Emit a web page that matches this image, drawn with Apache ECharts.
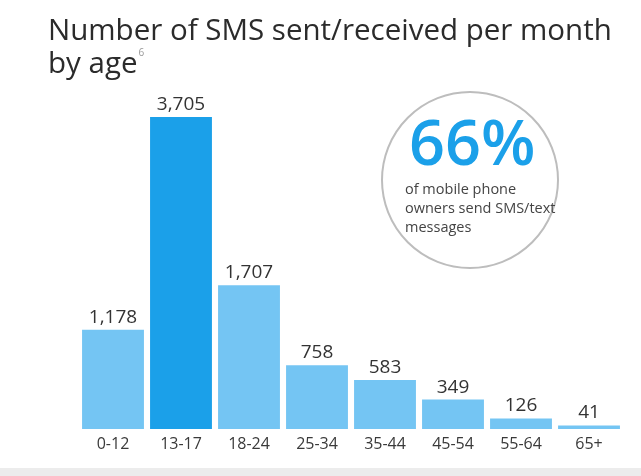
<!DOCTYPE html>
<html>
<head>
<meta charset="utf-8">
<script src="https://cdn.jsdelivr.net/npm/echarts@6/dist/echarts.min.js"></script>
<style>
  html, body { margin: 0; padding: 0; background: #fff; }
  #chart { width: 641px; height: 476px; }
</style>
</head>
<body>
<div id="chart"></div>
<script>
// age groups and SMS per month
var ageGroups = ['0-12', '13-17', '18-24', '25-34', '35-44', '45-54', '55-64', '65+'];
var smsCounts = [1178, 3705, 1707, 758, 583, 349, 126, 41];
var highlightIndex = 1;

var lightBlue = '#74c5f3';
var darkBlue = '#1ba0e9';
var font = 'Open Sans';

var myChart = echarts.init(document.getElementById('chart'));

var option = {
  animation: false,
  title: {
    text: '{t|Number of SMS sent/received per month}\n{t|by age}{s|6}',
    left: 43,
    top: 10,
    textStyle: {
      fontWeight: 'normal',
      rich: {
        t: { fontFamily: font, fontSize: 29.5, fontWeight: 'normal', color: '#2b2b2b', lineHeight: 33 },
        s: { fontFamily: font, fontSize: 10, color: '#999', verticalAlign: 'top', padding: [0, 0, 16, 1] }
      }
    }
  },
  grid: { left: 79, right: 18, top: 117, bottom: 47 },
  xAxis: {
    type: 'category',
    data: ageGroups,
    axisLine: { show: false },
    axisTick: { show: false },
    axisLabel: { color: '#3a3a3a', fontFamily: font, fontSize: 16, margin: 7 }
  },
  yAxis: {
    type: 'value',
    min: 0,
    max: 3705,
    show: false
  },
  series: [{
    type: 'bar',
    barCategoryGap: '9%',
    data: smsCounts.map(function (v, i) {
      return { value: v, itemStyle: { color: i === highlightIndex ? darkBlue : lightBlue } };
    }),
    label: {
      show: true,
      position: 'top',
      distance: 3,
      color: '#333',
      fontFamily: font,
      fontSize: 19,
      formatter: function (p) { return p.value.toLocaleString('en-US'); }
    }
  }],
  graphic: [
    {
      type: 'circle',
      shape: { cx: 470, cy: 180, r: 88 },
      style: { fill: '#fff', stroke: '#bdbdbd', lineWidth: 2 },
      z: 10
    },
    {
      type: 'text',
      left: 409,
      top: 116,
      style: { text: '66%', fill: '#1ba0e9', fontFamily: font, fontSize: 63, fontWeight: 600 },
      z: 11
    },
    {
      type: 'text',
      left: 405,
      top: 180,
      style: {
        text: 'of mobile phone\nowners send SMS/text\nmessages',
        fill: '#444', fontFamily: font, fontSize: 14.5, lineHeight: 19
      },
      z: 11
    },
    {
      type: 'rect',
      shape: { x: 0, y: 468, width: 641, height: 8 },
      style: { fill: '#ececec' },
      z: 1
    }
  ]
};

myChart.setOption(option);
</script>
</body>
</html>
